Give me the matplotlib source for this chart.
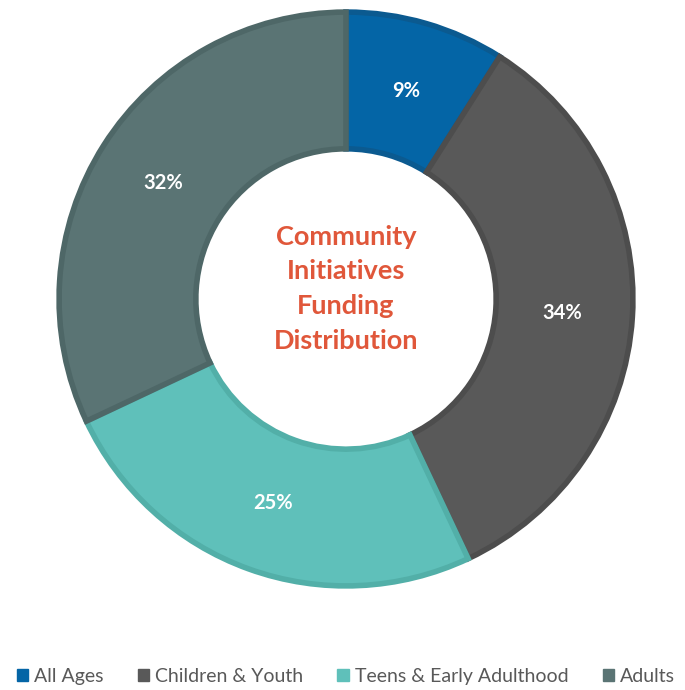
import numpy as np
import matplotlib.pyplot as plt
from matplotlib.patches import Patch

categories = ['All Ages', 'Children & Youth', 'Teens & Early Adulthood', 'Adults']
shares = [9, 34, 25, 32]
fill_colors = ['#0465A6', '#595959', '#5FC0BA', '#5A7474']
edge_colors = ['#0B5A90', '#4D4D4D', '#52AFA8', '#4E6767']

plt.rcParams['font.family'] = ['Lato', 'DejaVu Sans']

fig = plt.figure(figsize=(6.85, 6.9), dpi=100)
cx, cy, r = 346, 299, 291
ax = fig.add_axes([(cx - r) / 685, (690 - cy - r) / 690, 2 * r / 685, 2 * r / 690])

wedges, texts = ax.pie(shares, colors=fill_colors, startangle=90, counterclock=False,
                       radius=0.986, wedgeprops=dict(width=0.47, linewidth=4))
for w, ec in zip(wedges, edge_colors):
    w.set_edgecolor(ec)

# percentage labels in the middle of the ring
start = 90.0
for v in shares:
    mid = np.deg2rad(start - v * 3.6 / 2)
    ax.text(0.745 * np.cos(mid), 0.745 * np.sin(mid), f'{v}%', color='white',
            fontsize=14.5, fontweight='bold', ha='center', va='center')
    start -= v * 3.6

ax.text(0, 0.035, 'Community\nInitiatives\nFunding\nDistribution', color='#E0573A',
        fontsize=19.5, fontweight='bold', ha='center', va='center', linespacing=1.54)

ax.set_xlim(-1, 1)
ax.set_ylim(-1, 1)
ax.set_aspect('equal')
ax.axis('off')

handles = [Patch(facecolor=c, edgecolor=c) for c in fill_colors]
fig.legend(handles, categories, loc='lower center', bbox_to_anchor=(0.505, -0.018), ncol=4,
           frameon=False, fontsize=14, handlelength=0.6, handleheight=0.6,
           handletextpad=0.3, columnspacing=1.75, labelcolor='#595959')

fig.savefig('out.png', dpi=100)
